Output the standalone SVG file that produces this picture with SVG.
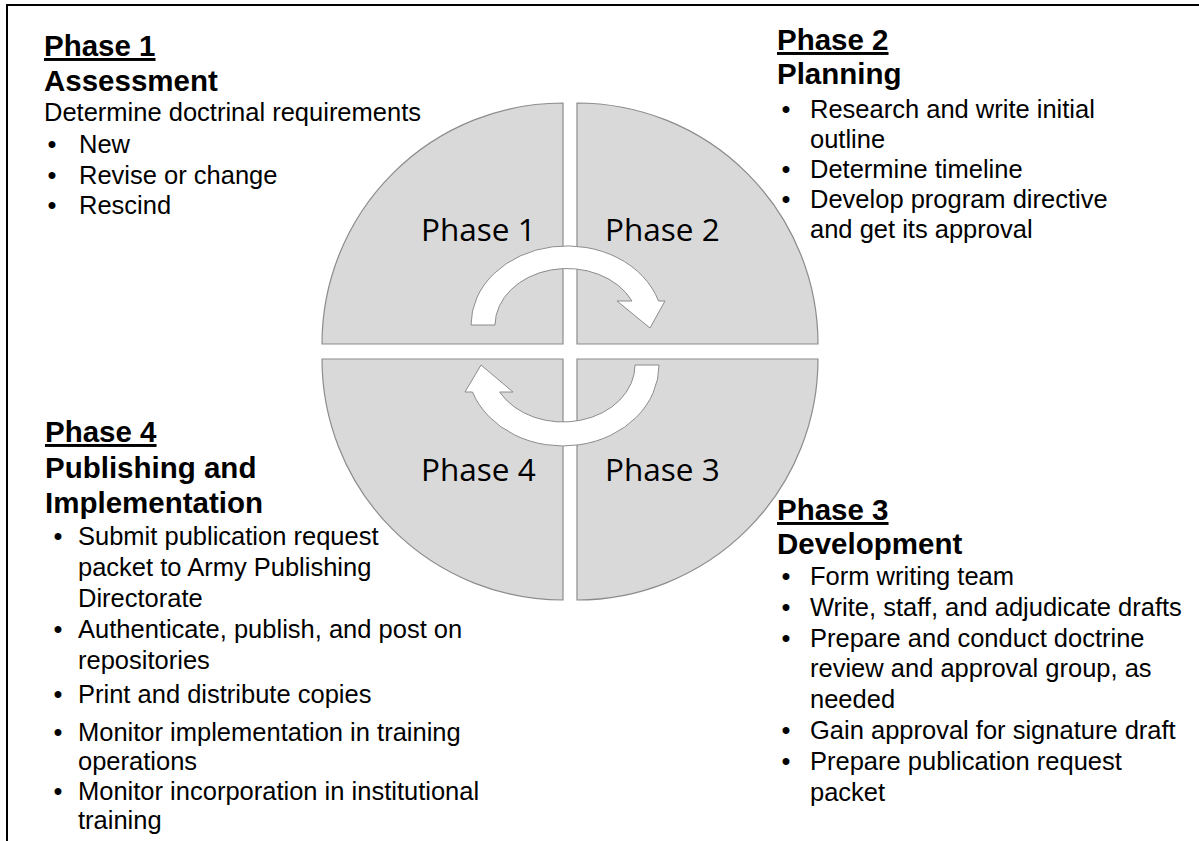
<svg xmlns="http://www.w3.org/2000/svg" width="1199" height="841" viewBox="0 0 1199 841">
  <style>
    .frame { fill: none; stroke: #000; stroke-width: 2; }
    .quad { fill: #d9d9d9; stroke: #8c8c8c; stroke-width: 1.2; }
    .arrow { fill: #fff; stroke: #8c8c8c; stroke-width: 1; }
    .qlabel { font-family: "Open Sans", "Noto Sans", sans-serif; font-size: 31.5px; fill: #000; }
    .head { font-family: "Liberation Sans", Arial, sans-serif; font-size: 29.5px; font-weight: bold; fill: #000; }
    .ul { text-decoration: underline; }
    .body { font-family: "Liberation Sans", Arial, sans-serif; font-size: 25.5px; fill: #000; }
    .dot { text-anchor: middle; }
  </style>

  <rect width="1199" height="841" fill="#fff"/>
  <!-- open frame: top and left edges -->
  <path class="frame" d="M7,841 V5 H1199"/>

  <!-- wheel quadrants -->
  <g id="quadrant-1">
    <path class="quad" d="M563,344 H322 A241,241 0 0 1 563,103 Z"/>
    <text class="qlabel" x="421" y="241">Phase 1</text>
  </g>
  <g id="quadrant-2">
    <path class="quad" d="M577,344 V103 A241,241 0 0 1 818,344 Z"/>
    <text class="qlabel" x="605" y="241">Phase 2</text>
  </g>
  <g id="quadrant-3">
    <path class="quad" d="M577,359 H818 A241,241 0 0 1 577,600 Z"/>
    <text class="qlabel" x="605" y="481">Phase 3</text>
  </g>
  <g id="quadrant-4">
    <path class="quad" d="M563,359 V600 A241,241 0 0 1 322,359 Z"/>
    <text class="qlabel" x="421" y="481">Phase 4</text>
  </g>

  <!-- circular arrows -->
  <g id="connectors">
    <path class="arrow" d="M471,325 A96,79 0 0 1 658.5,301 L665,301 L650,328 L617,301 L632,301 A72,57 0 0 0 495,325 Z"/>
    <path class="arrow" d="M659,365 A96,81 0 0 1 472.5,392 L465,392 L481,365 L513,392 L499.6,392 A72,57 0 0 0 635,365 Z"/>
  </g>

  <!-- Phase 1 text block -->
  <g id="phase-1-text">
    <text class="head ul" x="44" y="56">Phase 1</text>
    <text class="head" x="44" y="91">Assessment</text>
    <text class="body" x="44" y="121">Determine doctrinal requirements</text>
    <text class="body dot" x="52" y="153">•</text>
    <text class="body" x="79" y="153">New</text>
    <text class="body dot" x="52" y="184">•</text>
    <text class="body" x="79" y="184">Revise or change</text>
    <text class="body dot" x="52" y="214">•</text>
    <text class="body" x="79" y="214">Rescind</text>
  </g>

  <!-- Phase 2 text block -->
  <g id="phase-2-text">
    <text class="head ul" x="777" y="50">Phase 2</text>
    <text class="head" x="777" y="84">Planning</text>
    <text class="body dot" x="786" y="118">•</text>
    <text class="body" x="810" y="118">Research and write initial</text>
    <text class="body" x="810" y="148">outline</text>
    <text class="body dot" x="786" y="178">•</text>
    <text class="body" x="810" y="178">Determine timeline</text>
    <text class="body dot" x="786" y="208">•</text>
    <text class="body" x="810" y="208">Develop program directive</text>
    <text class="body" x="810" y="238">and get its approval</text>
  </g>

  <!-- Phase 3 text block -->
  <g id="phase-3-text">
    <text class="head ul" x="777" y="520">Phase 3</text>
    <text class="head" x="777" y="554">Development</text>
    <text class="body dot" x="786" y="585">•</text>
    <text class="body" x="810" y="585">Form writing team</text>
    <text class="body dot" x="786" y="616">•</text>
    <text class="body" x="810" y="616">Write, staff, and adjudicate drafts</text>
    <text class="body dot" x="786" y="647">•</text>
    <text class="body" x="810" y="647">Prepare and conduct doctrine</text>
    <text class="body" x="810" y="677">review and approval group, as</text>
    <text class="body" x="810" y="708">needed</text>
    <text class="body dot" x="786" y="739">•</text>
    <text class="body" x="810" y="739">Gain approval for signature draft</text>
    <text class="body dot" x="786" y="770">•</text>
    <text class="body" x="810" y="770">Prepare publication request</text>
    <text class="body" x="810" y="801">packet</text>
  </g>

  <!-- Phase 4 text block -->
  <g id="phase-4-text">
    <text class="head ul" x="45" y="442">Phase 4</text>
    <text class="head" x="45" y="478">Publishing and</text>
    <text class="head" x="45" y="513">Implementation</text>
    <text class="body dot" x="58" y="545">•</text>
    <text class="body" x="78" y="545">Submit publication request</text>
    <text class="body" x="78" y="576">packet to Army Publishing</text>
    <text class="body" x="78" y="607">Directorate</text>
    <text class="body dot" x="58" y="638">•</text>
    <text class="body" x="78" y="638">Authenticate, publish, and post on</text>
    <text class="body" x="78" y="669">repositories</text>
    <text class="body dot" x="58" y="703">•</text>
    <text class="body" x="78" y="703">Print and distribute copies</text>
    <text class="body dot" x="58" y="741">•</text>
    <text class="body" x="78" y="741">Monitor implementation in training</text>
    <text class="body" x="78" y="770">operations</text>
    <text class="body dot" x="58" y="800">•</text>
    <text class="body" x="78" y="800">Monitor incorporation in institutional</text>
    <text class="body" x="78" y="829">training</text>
  </g>
</svg>
